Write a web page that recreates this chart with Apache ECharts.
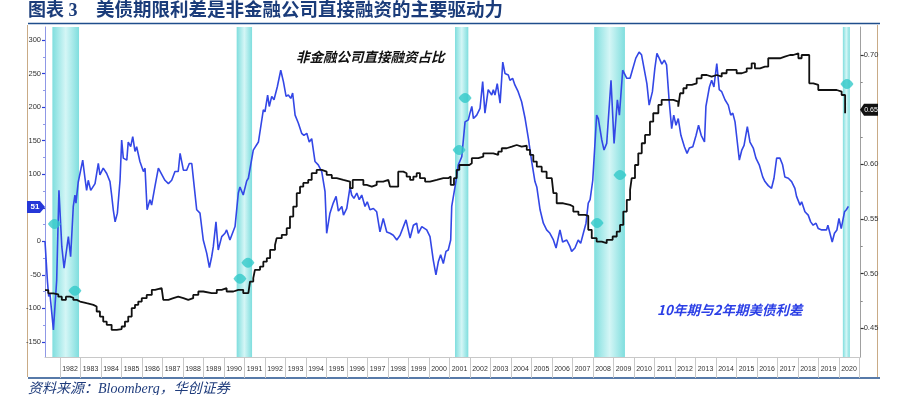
<!DOCTYPE html>
<html><head><meta charset="utf-8">
<script src="https://cdn.jsdelivr.net/npm/echarts@6/dist/echarts.min.js"></script>
<style>html,body{margin:0;padding:0;background:#fff}#c{width:900px;height:395px}</style>
</head><body><div id="c"></div>
<script>
// 10y-2y UST spread (bp), left axis
const spreadYears = [1981.28,1981.40,1981.46,1981.52,1981.69,1981.85,1981.96,1982.10,1982.21,1982.42,1982.53,1982.66,1982.74,1982.79,1982.90,1982.99,1983.12,1983.23,1983.31,1983.39,1983.51,1983.72,1983.88,1983.96,1984.12,1984.29,1984.45,1984.53,1984.61,1984.70,1984.81,1984.94,1985.02,1985.10,1985.27,1985.34,1985.46,1985.56,1985.67,1985.75,1985.91,1986.08,1986.16,1986.26,1986.40,1986.48,1986.65,1986.81,1986.89,1987.13,1987.30,1987.46,1987.62,1987.78,1987.87,1988.03,1988.19,1988.32,1988.44,1988.55,1988.68,1988.84,1989.00,1989.17,1989.30,1989.41,1989.49,1989.62,1989.73,1989.90,1990.06,1990.14,1990.30,1990.55,1990.71,1990.79,1990.95,1991.12,1991.20,1991.44,1991.52,1991.69,1991.77,1991.93,1992.01,1992.14,1992.22,1992.34,1992.45,1992.61,1992.78,1992.91,1993.04,1993.15,1993.27,1993.36,1993.48,1993.64,1993.80,1993.91,1994.05,1994.17,1994.29,1994.37,1994.45,1994.61,1994.78,1994.94,1995.02,1995.18,1995.34,1995.48,1995.59,1995.76,1995.84,1996.00,1996.16,1996.24,1996.35,1996.49,1996.61,1996.73,1996.89,1997.00,1997.13,1997.30,1997.46,1997.62,1997.78,1997.95,1998.11,1998.27,1998.44,1998.60,1998.89,1999.09,1999.25,1999.41,1999.49,1999.66,1999.90,2000.06,2000.22,2000.35,2000.47,2000.58,2000.71,2000.84,2000.95,2001.07,2001.12,2001.20,2001.33,2001.44,2001.61,2001.77,2001.93,2002.01,2002.10,2002.18,2002.34,2002.50,2002.63,2002.74,2002.90,2003.07,2003.15,2003.23,2003.34,2003.48,2003.61,2003.72,2003.88,2003.96,2004.09,2004.20,2004.36,2004.53,2004.70,2004.86,2005.02,2005.18,2005.27,2005.43,2005.59,2005.75,2005.91,2006.08,2006.21,2006.40,2006.53,2006.73,2006.89,2006.97,2007.13,2007.29,2007.41,2007.54,2007.67,2007.78,2007.87,2008.00,2008.19,2008.27,2008.44,2008.55,2008.68,2008.89,2009.04,2009.20,2009.30,2009.46,2009.66,2009.82,2009.93,2010.10,2010.26,2010.38,2010.50,2010.64,2010.75,2010.91,2011.03,2011.13,2011.24,2011.37,2011.49,2011.60,2011.73,2011.85,2011.95,2012.06,2012.17,2012.30,2012.47,2012.60,2012.71,2012.88,2013.04,2013.16,2013.29,2013.45,2013.52,2013.69,2013.80,2013.91,2014.05,2014.17,2014.29,2014.45,2014.61,2014.73,2014.83,2014.94,2015.05,2015.15,2015.27,2015.38,2015.54,2015.67,2015.83,2015.96,2016.12,2016.29,2016.40,2016.56,2016.72,2016.84,2016.97,2017.13,2017.26,2017.37,2017.54,2017.70,2017.86,2017.94,2018.11,2018.19,2018.35,2018.51,2018.63,2018.75,2018.89,2019.00,2019.17,2019.23,2019.40,2019.47,2019.55,2019.68,2019.79,2019.91,2020.01,2020.12,2020.28,2020.37,2020.47];
const spreadValues = [0,-60,-82,-78,-132,-58,76,-8,-40,7,-23,52,69,57,88,89,121,94,76,91,76,86,116,99,109,101,89,69,47,29,42,91,151,124,121,148,141,156,134,141,119,104,109,47,62,54,83,109,109,91,86,91,104,104,131,106,106,116,116,84,47,42,2,-18,-39,-23,-8,29,-13,7,12,17,2,22,72,81,69,90,94,136,136,148,148,196,193,218,201,216,211,230,255,238,216,218,213,221,188,176,161,158,161,148,153,136,119,114,104,74,12,42,57,67,45,52,39,49,81,69,64,72,62,69,52,59,47,49,44,14,34,14,12,9,2,9,32,5,24,27,12,22,17,7,-28,-50,-30,-20,-33,-15,-13,2,52,52,90,114,126,178,181,191,201,183,188,198,238,191,226,218,226,218,235,206,267,250,248,240,243,233,223,208,183,153,119,89,81,47,27,17,12,2,-10,17,-1,2,-8,-15,-10,2,-3,12,27,57,62,91,188,183,151,136,146,240,146,211,188,255,243,243,255,273,282,278,258,235,203,223,258,280,273,264,270,263,208,168,188,173,183,158,141,131,139,141,158,173,158,148,201,230,240,230,265,226,223,211,203,188,191,178,148,121,136,143,171,148,139,124,114,96,89,83,79,94,124,124,114,96,94,89,79,67,54,59,44,39,29,24,27,19,17,19,17,24,22,-1,12,17,34,19,44,47,52];

// Non-financial corporate direct financing share, right axis
const shareYears = [1981.28,1981.44,1981.69,1981.93,1982.10,1982.30,1982.50,1982.66,1982.83,1982.99,1983.31,1983.64,1983.80,1983.96,1984.12,1984.29,1984.53,1984.78,1985.02,1985.18,1985.34,1985.51,1985.67,1985.83,1986.00,1986.24,1986.49,1986.65,1986.97,1987.05,1987.30,1987.54,1987.78,1988.03,1988.27,1988.51,1988.76,1989.00,1989.41,1989.66,1989.90,1990.14,1990.47,1990.71,1990.95,1991.20,1991.28,1991.44,1991.52,1991.77,1991.93,1992.10,1992.26,1992.50,1992.58,1992.83,1993.07,1993.23,1993.39,1993.56,1993.72,1993.88,1994.12,1994.29,1994.53,1994.78,1995.02,1995.27,1995.51,1995.83,1996.16,1996.29,1996.65,1996.81,1996.97,1997.22,1997.46,1997.78,1998.03,1998.11,1998.27,1998.51,1998.76,1998.92,1999.09,1999.25,1999.41,1999.57,1999.82,2000.06,2000.39,2000.71,2000.95,2001.07,2001.23,2001.36,2001.49,2001.77,2001.98,2002.10,2002.42,2002.66,2002.90,2003.15,2003.39,2003.56,2003.80,2004.05,2004.29,2004.53,2004.78,2004.94,2005.10,2005.27,2005.51,2005.75,2006.00,2006.08,2006.24,2006.56,2006.89,2007.05,2007.30,2007.62,2007.78,2007.95,2008.19,2008.44,2008.68,2008.97,2009.17,2009.33,2009.49,2009.66,2009.82,2009.90,2010.06,2010.22,2010.39,2010.55,2010.79,2010.95,2011.20,2011.36,2011.61,2011.93,2012.17,2012.26,2012.42,2012.58,2012.83,2013.07,2013.31,2013.56,2013.80,2014.05,2014.29,2014.53,2014.78,2015.02,2015.27,2015.51,2015.75,2015.91,2016.16,2016.40,2016.56,2016.89,2017.13,2017.37,2017.62,2017.78,2018.03,2018.19,2018.44,2018.56,2018.76,2019.00,2019.25,2019.57,2019.90,2020.14,2020.22,2020.31];
const shareValues = [0.485,0.482,0.481,0.479,0.476,0.479,0.478,0.476,0.4745,0.473,0.4715,0.470,0.4654,0.4608,0.4562,0.4532,0.4486,0.4493,0.4517,0.4562,0.4608,0.4685,0.4715,0.4745,0.4776,0.4806,0.4852,0.4867,0.4867,0.476,0.4776,0.479,0.4776,0.476,0.4776,0.4806,0.4837,0.4822,0.4822,0.4852,0.4867,0.4837,0.4852,0.4852,0.4822,0.4806,0.4928,0.4959,0.5035,0.5065,0.511,0.5142,0.5218,0.5263,0.5325,0.5355,0.5416,0.5522,0.5614,0.5736,0.5796,0.583,0.5857,0.5919,0.5949,0.5933,0.5903,0.5873,0.5857,0.5842,0.5782,0.5857,0.5857,0.5812,0.5796,0.5812,0.5842,0.5857,0.5842,0.5796,0.5796,0.5933,0.5919,0.5888,0.5857,0.5888,0.5919,0.5873,0.5842,0.5857,0.5873,0.5873,0.5888,0.5812,0.5873,0.5949,0.5994,0.5994,0.601,0.6056,0.607,0.6101,0.6101,0.6086,0.6116,0.6147,0.6162,0.6177,0.6162,0.617,0.6132,0.6086,0.6025,0.5979,0.5933,0.5873,0.5857,0.5736,0.5644,0.5629,0.5614,0.5568,0.5538,0.5529,0.5401,0.5325,0.5294,0.5279,0.531,0.534,0.5385,0.5446,0.5568,0.5675,0.5766,0.5873,0.5994,0.6101,0.6193,0.6269,0.639,0.6467,0.6543,0.6589,0.6589,0.6573,0.6527,0.665,0.6696,0.6726,0.6741,0.6787,0.6817,0.6802,0.6817,0.6802,0.6833,0.6863,0.6863,0.6833,0.6847,0.6878,0.6924,0.6878,0.6893,0.6893,0.697,0.697,0.6985,0.700,0.700,0.7015,0.697,0.700,0.700,0.6741,0.6726,0.668,0.668,0.668,0.6665,0.6634,0.6634,0.6467];

// recession bands
const recessionStarts = [1981.64, 1990.63, 2001.28, 2008.07, 2020.20];
const recessionEnds   = [1982.94, 1991.38, 2001.93, 2009.57, 2020.54];

// annotation flags (right axis scale)
const flagYears  = [1981.74, 1982.74, 1990.79, 1991.18, 2001.77, 2001.48, 2008.21, 2009.33, 2020.40];
const flagValues = [0.5455, 0.4843, 0.4953, 0.5099, 0.6607, 0.6132, 0.5464, 0.5903, 0.6735];

const yearLabels = [];
for (let y = 1982; y <= 2020; y++) yearLabels.push(String(y));
const leftTicks = [-150,-100,-50,0,50,100,150,200,250,300];
const leftMinorTicks = [-125,-75,-25,25,75,125,175,225,275];
const rightTicks = [0.45,0.50,0.55,0.60,0.65,0.70];
const rightMinorTicks = [0.475,0.525,0.575,0.625,0.675];
const lastSpreadLabel = '51';
const lastSpreadValue = 51;
const lastShareLabel = '0.65';
const lastShareValue = 0.65;

const chart = echarts.init(document.getElementById('c'), null, {renderer: 'canvas'});
const LMIN = -172.4, LMAX = 319.4, RMIN = 0.4238, RMAX = 0.7256;
const bandColor = {type:'linear', x:0, y:0, x2:1, y2:0, colorStops:[
  {offset:0, color:'#7fdede'},{offset:0.5, color:'#d4f6f6'},{offset:1, color:'#7fdede'}]};

const option = {
  animation: false,
  backgroundColor: '#fff',
  grid: [
    {left: 45, right: 39.3, top: 27, bottom: 38},
    {left: 59.75, right: 40.75, top: 27, bottom: 38}
  ],
  xAxis: [
    {type:'value', gridIndex:0, min:1981.28, max:2021.07,
     axisLine:{show:true, onZero:false, lineStyle:{color:'#c8c8c8'}}, axisTick:{show:false}, axisLabel:{show:false}, splitLine:{show:false}},
    {type:'category', gridIndex:1, data: yearLabels, boundaryGap:true,
     axisLine:{show:false, onZero:false}, axisTick:{show:true, interval:0, length:21, lineStyle:{color:'#c8c8c8'}},
     axisLabel:{interval:0, fontSize:7, color:'#333', margin:9, fontFamily:'Liberation Sans'}, splitLine:{show:false}}
  ],
  yAxis: [
    {type:'value', gridIndex:0, position:'left', min:LMIN, max:LMAX,
     axisLine:{show:true, lineStyle:{color:'#8f98e6'}},
     axisTick:{show:true, length:3, customValues:leftTicks, lineStyle:{color:'#2c3ed8', width:1.2}},
     axisLabel:{customValues:leftTicks, fontSize:7.5, color:'#333', margin:4, fontFamily:'Liberation Sans'},
     splitLine:{show:false}},
    {type:'value', gridIndex:0, position:'right', min:RMIN, max:RMAX,
     axisLine:{show:true, lineStyle:{color:'#a0a0a0'}},
     axisTick:{show:true, length:3, customValues:rightTicks, lineStyle:{color:'#333', width:1.2}},
     axisLabel:{customValues:rightTicks, fontSize:7.5, color:'#333', margin:3, fontFamily:'Liberation Sans',
       formatter: v => v.toFixed(2)},
     splitLine:{show:false}},
    {type:'value', gridIndex:0, position:'left', min:LMIN, max:LMAX,
     axisLine:{show:false}, axisTick:{show:true, length:2, customValues:leftMinorTicks, lineStyle:{color:'#8f98e6'}},
     axisLabel:{show:false}, splitLine:{show:false}},
    {type:'value', gridIndex:0, position:'right', min:RMIN, max:RMAX,
     axisLine:{show:false}, axisTick:{show:true, length:2, customValues:rightMinorTicks, lineStyle:{color:'#888'}},
     axisLabel:{show:false}, splitLine:{show:false}},
    {type:'value', gridIndex:1, show:false}
  ],
  series: [
    {name:'10年期与2年期美债利差', type:'line', xAxisIndex:0, yAxisIndex:0,
     data: spreadYears.map((y,i)=>[y, spreadValues[i]]),
     showSymbol:false, symbol:'none', lineStyle:{color:'#3347e6', width:1.6}, z:3,
     markArea:{silent:true, itemStyle:{color:bandColor}, z:1,
       data: recessionStarts.map((s,i)=>[{xAxis:s},{xAxis:recessionEnds[i]}])}},
    {name:'非金融公司直接融资占比', type:'line', xAxisIndex:0, yAxisIndex:1, step:'end',
     data: shareYears.map((y,i)=>[y, shareValues[i]]),
     showSymbol:false, symbol:'none', lineStyle:{color:'#111', width:1.8}, z:4},
    {name:'flags', type:'scatter', xAxisIndex:0, yAxisIndex:1,
     data: flagYears.map((y,i)=>[y, flagValues[i]]),
     symbol:'path://M0,5 Q7,-2 14,5 Q7,12 0,5 Z', symbolSize:[13,10],
     itemStyle:{color:'#33c9c9'}, z:5, silent:true}
  ]
};
chart.setOption(option);

const yL = chart.convertToPixel({yAxisIndex:0}, lastSpreadValue);
const yR = chart.convertToPixel({yAxisIndex:1}, lastShareValue);
const serifCJK = "'Liberation Serif','Noto Sans CJK SC'";
chart.setOption({graphic: [
  {type:'text', left:28, top:2, style:{text:'图表 3', font:"bold 18px "+serifCJK, fill:'#1b3c7a'}},
  {type:'text', left:96, top:2, style:{text:'美债期限利差是非金融公司直接融资的主要驱动力', font:"bold 18.5px "+serifCJK, fill:'#1b3c7a'}},
  {type:'line', shape:{x1:28, y1:23.5, x2:880, y2:23.5}, style:{stroke:'#1f4e8c', lineWidth:1.6}},
  {type:'line', shape:{x1:28, y1:378, x2:880, y2:378}, style:{stroke:'#1f4e8c', lineWidth:1.6}},
  {type:'line', shape:{x1:27.5, y1:25, x2:27.5, y2:377}, style:{stroke:'#c9ab86', lineWidth:1}},
  {type:'line', shape:{x1:877.5, y1:25, x2:877.5, y2:377}, style:{stroke:'#c9ab86', lineWidth:1}},
  {type:'text', left:28, top:382, style:{text:'资料来源：Bloomberg，华创证券', font:"italic 14px "+serifCJK, fill:'#1f3c7c'}},
  {type:'text', left:296, top:50, style:{text:'非金融公司直接融资占比', font:"italic bold 13.5px 'Noto Sans CJK SC'", fill:'#111'}},
  {type:'text', left:657, top:303, style:{text:'10年期与2年期美债利差', font:"italic bold 13.5px 'Noto Sans CJK SC'", fill:'#2b3fe6'}},
  {type:'polygon', shape:{points:[[27,yL-6],[40,yL-6],[45,yL],[40,yL+6],[27,yL+6]]}, style:{fill:'#2638d8'}, z:10},
  {type:'text', x:35, y:yL, style:{text:lastSpreadLabel, font:"bold 8px 'Liberation Sans'", fill:'#fff', align:'center', verticalAlign:'middle'}, z:11},
  {type:'polygon', shape:{points:[[860,yR],[864,yR-6],[878,yR-6],[878,yR+6],[864,yR+6]]}, style:{fill:'#111'}, z:10},
  {type:'text', x:871, y:yR, style:{text:lastShareLabel, font:"7px 'Liberation Sans'", fill:'#fff', align:'center', verticalAlign:'middle'}, z:11}
]});
</script></body></html>
